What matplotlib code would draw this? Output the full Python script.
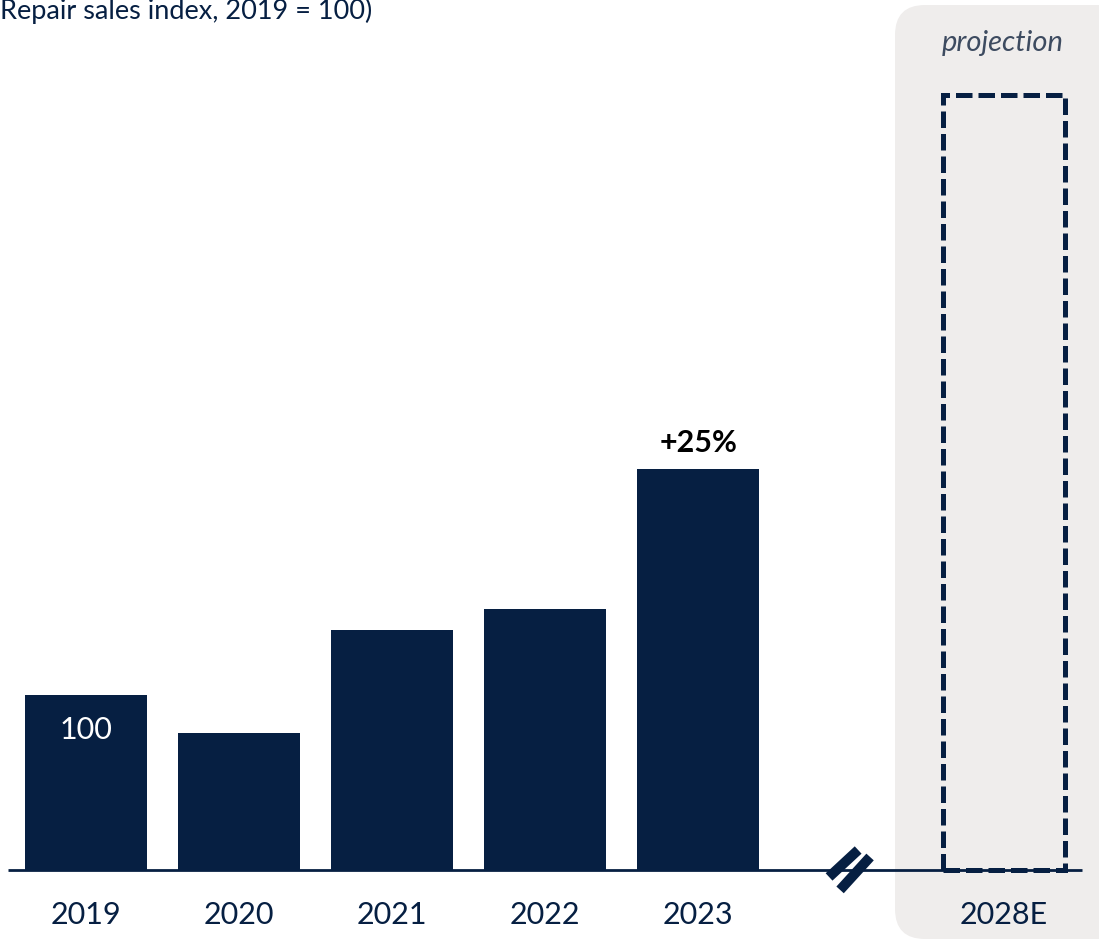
import matplotlib
matplotlib.use("Agg")
import matplotlib.pyplot as plt
from matplotlib.patches import FancyBboxPatch
from matplotlib.transforms import IdentityTransform

# Repair sales index, 2019 = 100
years = ["2019", "2020", "2021", "2022", "2023"]
index_values = [100, 78, 137, 149, 229]
projection_label = "2028E"
projection_value = 443
growth_label = "+25%"
subtitle = "Repair sales index, 2019 = 100)"

NAVY = "#061F42"
PANEL = "#EFEDEC"
FONT = "Lato"

W, H, DPI = 1099, 941, 100
fig = plt.figure(figsize=(W / DPI, H / DPI), dpi=DPI)
ax = fig.add_axes([0, 0, 1, 1])
ax.set_xlim(-0.562, 6.62)
ax.set_ylim(-40.6, 497.1)
ax.axis("off")

# projection panel (rounded, pixel coordinates)
panel = FancyBboxPatch((895, 2), 240, 934,
                       boxstyle="round,pad=0,rounding_size=30",
                       transform=IdentityTransform(), facecolor=PANEL,
                       edgecolor="none", zorder=0)
ax.add_patch(panel)

x_hist = list(range(len(years)))
x_proj = 6

ax.bar(x_hist, index_values, width=0.8, color=NAVY, zorder=2)
ax.bar([x_proj], [projection_value], width=0.8, bottom=0, fill=False,
       edgecolor=NAVY, linewidth=3.6, linestyle=(0, (3.3, 1.2)), zorder=2)

# baseline with break mark
ax.plot([-0.51, 6.51], [0, 0], color=NAVY, linewidth=2, zorder=3,
        solid_capstyle="butt")
ax.plot([4.856, 5.046], [-4.0, 11.4], color=NAVY, linewidth=7.2,
        solid_capstyle="butt", zorder=4)
ax.plot([4.928, 5.124], [-11.4, 7.4], color=NAVY, linewidth=7.2,
        solid_capstyle="butt", zorder=4)

# category labels
for x, lab in zip(x_hist + [x_proj], years + [projection_label]):
    ax.text(x, -25.5, lab, ha="center", va="center", fontsize=22,
            color=NAVY, family=FONT)

ax.text(x_hist[0], index_values[0] - 20, str(index_values[0]), ha="center",
        va="center", fontsize=22, color="white", family=FONT, zorder=5)
ax.text(x_hist[-1], index_values[-1] + 15, growth_label, ha="center",
        va="center", fontsize=22, fontweight="bold", color="black",
        family=FONT, zorder=5)

fig.text(1003 / W, 1 - 43 / H, "projection", ha="center", va="center",
         fontsize=21, style="italic", color="#3D4B60", family=FONT)
fig.text(0 / W, 1 - 19 / H, subtitle, ha="left", va="baseline",
         fontsize=19.5, color=NAVY, family=FONT)

fig.savefig("out.png", dpi=DPI)
